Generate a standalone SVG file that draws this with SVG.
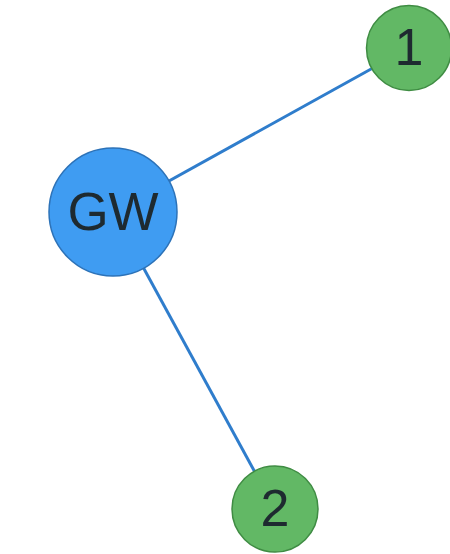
<svg xmlns="http://www.w3.org/2000/svg" width="450" height="554" viewBox="0 0 450 554">
<style>
.edge{stroke:#2f7dcc;stroke-width:3;fill:none}
.gw{fill:#3f9cf2;stroke:#2c72b8;stroke-width:1.5}
.leaf{fill:#62b865;stroke:#3f8c43;stroke-width:1.5}
.lbl{font-family:"Liberation Sans",Arial,sans-serif;fill:#1e2a30;text-anchor:middle;dominant-baseline:central}
</style>
<rect width="450" height="554" fill="#ffffff"/>
<g id="connectors">
<line class="edge" x1="113" y1="212" x2="409" y2="48"/>
<line class="edge" x1="113" y1="212" x2="275" y2="509"/>
</g>
<g id="node-GW">
<circle class="gw" cx="113" cy="212" r="64"/>
<text class="lbl" x="113" y="211" font-size="53">GW</text>
</g>
<g id="node-1">
<circle class="leaf" cx="409" cy="48" r="42.5"/>
<text class="lbl" x="409" y="47" font-size="52">1</text>
</g>
<g id="node-2">
<circle class="leaf" cx="275" cy="509" r="43"/>
<text class="lbl" x="275" y="508" font-size="52">2</text>
</g>
</svg>
